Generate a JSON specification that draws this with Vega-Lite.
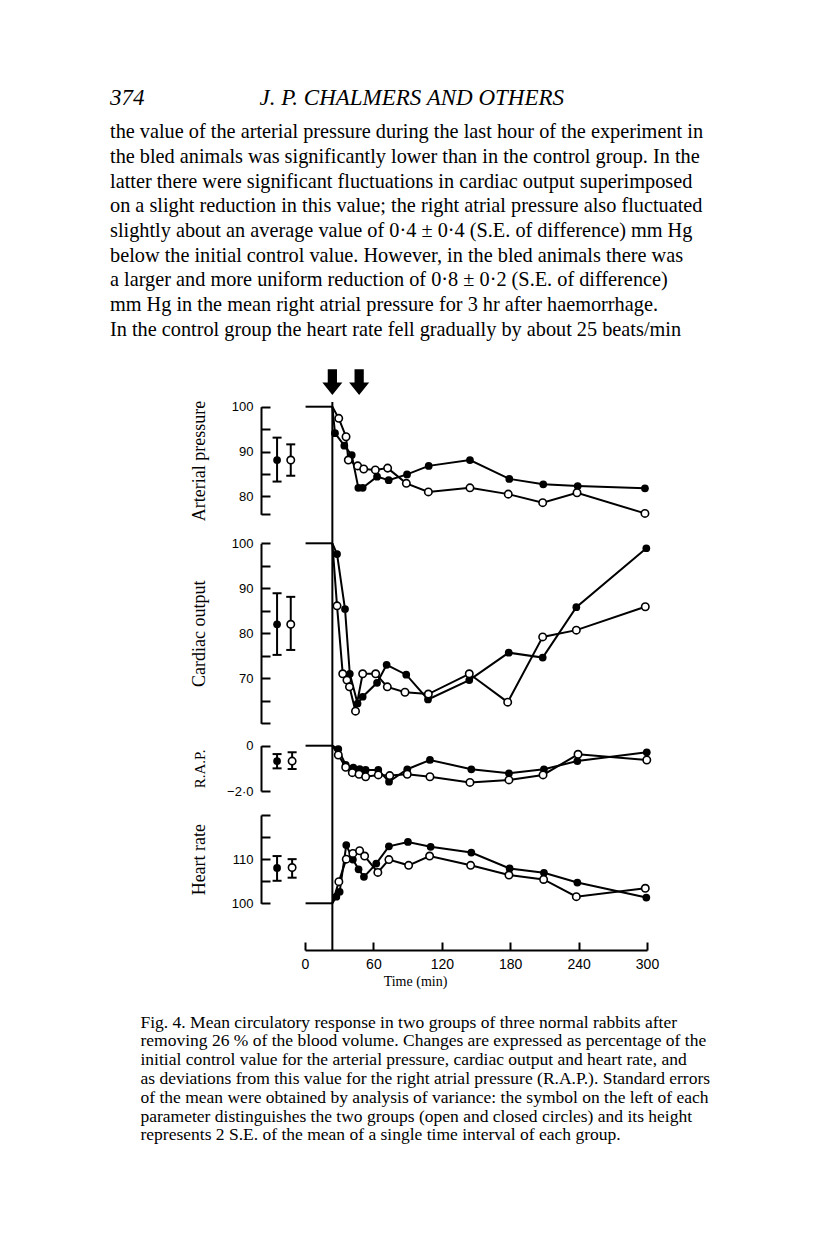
{
"$schema": "https://vega.github.io/schema/vega-lite/v6.json",
"autosize": {"type": "none"},
"padding": {"left": 305, "top": 402, "right": 169, "bottom": 308},
"width": 342,
"height": 548,
"background": "white",
"title": {
  "text": "374\u00a0\u00a0\u00a0\u00a0\u00a0\u00a0\u00a0\u00a0\u00a0\u00a0\u00a0\u00a0\u00a0\u00a0\u00a0\u00a0\u00a0\u00a0\u00a0\u00a0J. P. CHALMERS AND OTHERS",
  "subtitle": [
    "the value of the arterial pressure during the last hour of the experiment in",
    "the bled animals was significantly lower than in the control group. In the",
    "latter there were significant fluctuations in cardiac output superimposed",
    "on a slight reduction in this value; the right atrial pressure also fluctuated",
    "slightly about an average value of 0·4 ± 0·4 (S.E. of difference) mm Hg",
    "below the initial control value. However, in the bled animals there was",
    "a larger and more uniform reduction of 0·8 ± 0·2 (S.E. of difference)",
    "mm Hg in the mean right atrial pressure for 3 hr after haemorrhage.",
    "In the control group the heart rate fell gradually by about 25 beats/min"
  ],
  "anchor": "start",
  "frame": "group",
  "dx": -195,
  "offset": 29,
  "font": "Liberation Serif",
  "fontSize": 23,
  "fontStyle": "italic",
  "fontWeight": "normal",
  "color": "black",
  "subtitleFont": "Liberation Serif",
  "subtitleFontSize": 20.3,
  "subtitleColor": "black",
  "subtitleLineHeight": 24.7,
  "subtitlePadding": 12
},
"datasets": {
  "bleed": [{"t": 24}],
  "arrows": [{"t": 24, "v": 105.5}, {"t": 47.5, "v": 105.5}],
  "d": [
    {"p": "AP", "g": "control", "t": 0.5, "v": 100}, {"p": "AP", "g": "control", "t": 24, "v": 100},
    {"p": "AP", "g": "closed", "t": 24, "v": 100}, {"p": "AP", "g": "closed", "t": 26.3, "v": 94.1},
    {"p": "AP", "g": "closed", "t": 34.5, "v": 91.3}, {"p": "AP", "g": "closed", "t": 41.0, "v": 89.2},
    {"p": "AP", "g": "closed", "t": 46.8, "v": 81.9}, {"p": "AP", "g": "closed", "t": 50.6, "v": 81.9},
    {"p": "AP", "g": "closed", "t": 63.2, "v": 84.4}, {"p": "AP", "g": "closed", "t": 73.4, "v": 83.6},
    {"p": "AP", "g": "closed", "t": 89.5, "v": 84.9}, {"p": "AP", "g": "closed", "t": 108.5, "v": 86.8},
    {"p": "AP", "g": "closed", "t": 144.7, "v": 88.1}, {"p": "AP", "g": "closed", "t": 179.2, "v": 83.9},
    {"p": "AP", "g": "closed", "t": 209.0, "v": 82.7}, {"p": "AP", "g": "closed", "t": 239.2, "v": 82.3},
    {"p": "AP", "g": "closed", "t": 298.2, "v": 81.8},
    {"p": "AP", "g": "open", "t": 24, "v": 100}, {"p": "AP", "g": "open", "t": 29.6, "v": 97.4},
    {"p": "AP", "g": "open", "t": 36.0, "v": 93.3}, {"p": "AP", "g": "open", "t": 38.0, "v": 88.1},
    {"p": "AP", "g": "open", "t": 46.2, "v": 86.8}, {"p": "AP", "g": "open", "t": 51.5, "v": 86.1},
    {"p": "AP", "g": "open", "t": 61.7, "v": 85.9}, {"p": "AP", "g": "open", "t": 72.5, "v": 86.3},
    {"p": "AP", "g": "open", "t": 88.9, "v": 82.9}, {"p": "AP", "g": "open", "t": 108.2, "v": 81.0},
    {"p": "AP", "g": "open", "t": 144.7, "v": 81.9}, {"p": "AP", "g": "open", "t": 178.3, "v": 80.5},
    {"p": "AP", "g": "open", "t": 208.5, "v": 78.6}, {"p": "AP", "g": "open", "t": 238.6, "v": 80.8},
    {"p": "AP", "g": "open", "t": 298.2, "v": 76.2},
    {"p": "AP", "g": "closed", "t": -24.5, "lo": 83.3, "v": 88.1, "hi": 93.1},
    {"p": "AP", "g": "open", "t": -12.5, "lo": 84.6, "v": 88.1, "hi": 91.6},

    {"p": "CO", "g": "control", "t": 0.5, "v": 100}, {"p": "CO", "g": "control", "t": 24, "v": 100},
    {"p": "CO", "g": "closed", "t": 24, "v": 100}, {"p": "CO", "g": "closed", "t": 28.1, "v": 97.6},
    {"p": "CO", "g": "closed", "t": 35.1, "v": 85.4}, {"p": "CO", "g": "closed", "t": 39.3, "v": 71.0},
    {"p": "CO", "g": "closed", "t": 46.1, "v": 64.4}, {"p": "CO", "g": "closed", "t": 50.6, "v": 65.9},
    {"p": "CO", "g": "closed", "t": 63.2, "v": 69.0}, {"p": "CO", "g": "closed", "t": 71.6, "v": 73.0},
    {"p": "CO", "g": "closed", "t": 88.8, "v": 70.8}, {"p": "CO", "g": "closed", "t": 107.9, "v": 65.3},
    {"p": "CO", "g": "closed", "t": 144.1, "v": 69.6}, {"p": "CO", "g": "closed", "t": 178.7, "v": 75.7},
    {"p": "CO", "g": "closed", "t": 208.5, "v": 74.6}, {"p": "CO", "g": "closed", "t": 238.0, "v": 85.8},
    {"p": "CO", "g": "closed", "t": 299.4, "v": 98.9},
    {"p": "CO", "g": "open", "t": 24, "v": 100}, {"p": "CO", "g": "open", "t": 28.1, "v": 86.1},
    {"p": "CO", "g": "open", "t": 33.1, "v": 71.0}, {"p": "CO", "g": "open", "t": 36.8, "v": 69.6},
    {"p": "CO", "g": "open", "t": 39.0, "v": 68.1}, {"p": "CO", "g": "open", "t": 44.3, "v": 62.7},
    {"p": "CO", "g": "open", "t": 50.6, "v": 71.0}, {"p": "CO", "g": "open", "t": 62.0, "v": 71.0},
    {"p": "CO", "g": "open", "t": 72.2, "v": 68.1}, {"p": "CO", "g": "open", "t": 87.7, "v": 66.9},
    {"p": "CO", "g": "open", "t": 108.2, "v": 66.5}, {"p": "CO", "g": "open", "t": 144.1, "v": 71.0},
    {"p": "CO", "g": "open", "t": 177.8, "v": 64.7}, {"p": "CO", "g": "open", "t": 208.5, "v": 79.2},
    {"p": "CO", "g": "open", "t": 238.0, "v": 80.7}, {"p": "CO", "g": "open", "t": 298.5, "v": 85.9},
    {"p": "CO", "g": "closed", "t": -24.5, "lo": 75.2, "v": 82.0, "hi": 88.9},
    {"p": "CO", "g": "open", "t": -12.5, "lo": 76.3, "v": 82.0, "hi": 88.1},

    {"p": "RAP", "g": "control", "t": 0.5, "v": 0}, {"p": "RAP", "g": "control", "t": 24, "v": 0},
    {"p": "RAP", "g": "closed", "t": 24, "v": 0}, {"p": "RAP", "g": "closed", "t": 29.2, "v": -0.15},
    {"p": "RAP", "g": "closed", "t": 35.7, "v": -0.85}, {"p": "RAP", "g": "closed", "t": 42.4, "v": -0.97},
    {"p": "RAP", "g": "closed", "t": 48.0, "v": -1.03}, {"p": "RAP", "g": "closed", "t": 53.2, "v": -1.07},
    {"p": "RAP", "g": "closed", "t": 64.3, "v": -1.07}, {"p": "RAP", "g": "closed", "t": 73.7, "v": -1.59},
    {"p": "RAP", "g": "closed", "t": 89.7, "v": -1.04}, {"p": "RAP", "g": "closed", "t": 109.6, "v": -0.63},
    {"p": "RAP", "g": "closed", "t": 145.9, "v": -1.04}, {"p": "RAP", "g": "closed", "t": 178.9, "v": -1.22},
    {"p": "RAP", "g": "closed", "t": 209.6, "v": -1.04}, {"p": "RAP", "g": "closed", "t": 238.9, "v": -0.68},
    {"p": "RAP", "g": "closed", "t": 299.8, "v": -0.29},
    {"p": "RAP", "g": "open", "t": 24, "v": 0}, {"p": "RAP", "g": "open", "t": 29.2, "v": -0.41},
    {"p": "RAP", "g": "open", "t": 35.7, "v": -0.95}, {"p": "RAP", "g": "open", "t": 41.5, "v": -1.19},
    {"p": "RAP", "g": "open", "t": 47.4, "v": -1.26}, {"p": "RAP", "g": "open", "t": 53.2, "v": -1.37},
    {"p": "RAP", "g": "open", "t": 64.3, "v": -1.29}, {"p": "RAP", "g": "open", "t": 74.3, "v": -1.32},
    {"p": "RAP", "g": "open", "t": 89.7, "v": -1.26}, {"p": "RAP", "g": "open", "t": 109.6, "v": -1.37},
    {"p": "RAP", "g": "open", "t": 144.7, "v": -1.62}, {"p": "RAP", "g": "open", "t": 178.9, "v": -1.51},
    {"p": "RAP", "g": "open", "t": 208.8, "v": -1.29}, {"p": "RAP", "g": "open", "t": 239.5, "v": -0.38},
    {"p": "RAP", "g": "open", "t": 299.8, "v": -0.63},
    {"p": "RAP", "g": "closed", "t": -24.5, "lo": -1.0, "v": -0.68, "hi": -0.37},
    {"p": "RAP", "g": "open", "t": -11.3, "lo": -1.03, "v": -0.68, "hi": -0.29},

    {"p": "HR", "g": "control", "t": 0.5, "v": 100}, {"p": "HR", "g": "control", "t": 24, "v": 100},
    {"p": "HR", "g": "closed", "t": 24, "v": 100}, {"p": "HR", "g": "closed", "t": 27.5, "v": 101.5},
    {"p": "HR", "g": "closed", "t": 30.4, "v": 102.6}, {"p": "HR", "g": "closed", "t": 36.2, "v": 113.2},
    {"p": "HR", "g": "closed", "t": 42.0, "v": 109.9}, {"p": "HR", "g": "closed", "t": 47.0, "v": 107.7},
    {"p": "HR", "g": "closed", "t": 51.7, "v": 106.0}, {"p": "HR", "g": "closed", "t": 62.5, "v": 109.0},
    {"p": "HR", "g": "closed", "t": 73.6, "v": 112.9}, {"p": "HR", "g": "closed", "t": 90.3, "v": 113.9},
    {"p": "HR", "g": "closed", "t": 110.2, "v": 112.8}, {"p": "HR", "g": "closed", "t": 145.9, "v": 111.5},
    {"p": "HR", "g": "closed", "t": 179.5, "v": 107.9}, {"p": "HR", "g": "closed", "t": 209.6, "v": 106.9},
    {"p": "HR", "g": "closed", "t": 238.9, "v": 104.7}, {"p": "HR", "g": "closed", "t": 299.4, "v": 101.3},
    {"p": "HR", "g": "open", "t": 24, "v": 100}, {"p": "HR", "g": "open", "t": 29.7, "v": 104.9},
    {"p": "HR", "g": "open", "t": 36.2, "v": 110.0}, {"p": "HR", "g": "open", "t": 42.0, "v": 111.3},
    {"p": "HR", "g": "open", "t": 47.9, "v": 111.9}, {"p": "HR", "g": "open", "t": 52.3, "v": 110.7},
    {"p": "HR", "g": "open", "t": 63.9, "v": 107.0}, {"p": "HR", "g": "open", "t": 73.6, "v": 109.9},
    {"p": "HR", "g": "open", "t": 90.9, "v": 108.6}, {"p": "HR", "g": "open", "t": 109.3, "v": 110.7},
    {"p": "HR", "g": "open", "t": 145.3, "v": 108.6}, {"p": "HR", "g": "open", "t": 178.9, "v": 106.4},
    {"p": "HR", "g": "open", "t": 209.3, "v": 105.4}, {"p": "HR", "g": "open", "t": 238.0, "v": 101.5},
    {"p": "HR", "g": "open", "t": 298.5, "v": 103.4},
    {"p": "HR", "g": "closed", "t": -24.5, "lo": 105.1, "v": 108.0, "hi": 110.7},
    {"p": "HR", "g": "open", "t": -11.3, "lo": 105.8, "v": 108.1, "hi": 110.0}
  ]
},
"layer": [
  {"data": {"name": "d"}, "transform": [{"filter": "datum.p == 'AP' && datum.t >= 0"}],
   "mark": {"type": "line", "color": "black", "strokeWidth": 2},
   "encoding": {"x": {"field": "t", "type": "quantitative", "scale": {"domain": [0, 300], "nice": false, "zero": false}, "axis": null},
     "detail": {"field": "g"},
     "y": {"field": "v", "type": "quantitative", "scale": {"domain": [76, 100], "range": [112.3, 4.7], "nice": false, "zero": false},
       "axis": {"orient": "left", "values": [76, 80, 85, 90, 95, 100], "labelExpr": "datum.value % 10 == 0 ? datum.label : ''", "title": "Arterial pressure"}}}},
  {"data": {"name": "d"}, "transform": [{"filter": "datum.p == 'AP' && datum.t < 0"}],
   "mark": {"type": "rule", "color": "black", "strokeWidth": 2},
   "encoding": {"x": {"field": "t", "type": "quantitative", "scale": {"domain": [0, 300], "nice": false, "zero": false}, "axis": null},
     "y": {"field": "lo", "type": "quantitative", "scale": {"domain": [76, 100], "range": [112.3, 4.7], "nice": false, "zero": false}, "axis": null}, "y2": {"field": "hi"}}},
  {"data": {"name": "d"}, "transform": [{"filter": "datum.p == 'AP' && datum.t < 0"}],
   "mark": {"type": "tick", "orient": "horizontal", "size": 9, "thickness": 2, "color": "black", "opacity": 1},
   "encoding": {"x": {"field": "t", "type": "quantitative", "scale": {"domain": [0, 300], "nice": false, "zero": false}, "axis": null},
     "y": {"field": "lo", "type": "quantitative", "scale": {"domain": [76, 100], "range": [112.3, 4.7], "nice": false, "zero": false}, "axis": null}}},
  {"data": {"name": "d"}, "transform": [{"filter": "datum.p == 'AP' && datum.t < 0"}],
   "mark": {"type": "tick", "orient": "horizontal", "size": 9, "thickness": 2, "color": "black", "opacity": 1},
   "encoding": {"x": {"field": "t", "type": "quantitative", "scale": {"domain": [0, 300], "nice": false, "zero": false}, "axis": null},
     "y": {"field": "hi", "type": "quantitative", "scale": {"domain": [76, 100], "range": [112.3, 4.7], "nice": false, "zero": false}, "axis": null}}},
  {"data": {"name": "d"}, "transform": [{"filter": "datum.p == 'AP' && datum.g == 'closed' && (datum.t > 24.5 || datum.t < 0)"}],
   "mark": {"type": "point", "shape": "circle", "filled": true, "fill": "black", "stroke": null, "size": 60, "opacity": 1},
   "encoding": {"x": {"field": "t", "type": "quantitative", "scale": {"domain": [0, 300], "nice": false, "zero": false}, "axis": null},
     "y": {"field": "v", "type": "quantitative", "scale": {"domain": [76, 100], "range": [112.3, 4.7], "nice": false, "zero": false}, "axis": null}}},
  {"data": {"name": "d"}, "transform": [{"filter": "datum.p == 'AP' && datum.g == 'open' && (datum.t > 24.5 || datum.t < 0)"}],
   "mark": {"type": "point", "shape": "circle", "filled": true, "fill": "white", "stroke": "black", "strokeWidth": 1.6, "size": 55, "opacity": 1},
   "encoding": {"x": {"field": "t", "type": "quantitative", "scale": {"domain": [0, 300], "nice": false, "zero": false}, "axis": null},
     "y": {"field": "v", "type": "quantitative", "scale": {"domain": [76, 100], "range": [112.3, 4.7], "nice": false, "zero": false}, "axis": null}}},

  {"data": {"name": "d"}, "transform": [{"filter": "datum.p == 'CO' && datum.t >= 0"}],
   "mark": {"type": "line", "color": "black", "strokeWidth": 2},
   "encoding": {"x": {"field": "t", "type": "quantitative", "scale": {"domain": [0, 300], "nice": false, "zero": false}, "axis": null},
     "detail": {"field": "g"},
     "y": {"field": "v", "type": "quantitative", "scale": {"domain": [60, 100], "range": [321.3, 141.3], "nice": false, "zero": false},
       "axis": {"orient": "left", "values": [60, 65, 70, 75, 80, 85, 90, 95, 100], "labelExpr": "datum.value % 10 == 0 && datum.value > 60 ? datum.label : ''", "title": "Cardiac output"}}}},
  {"data": {"name": "d"}, "transform": [{"filter": "datum.p == 'CO' && datum.t < 0"}],
   "mark": {"type": "rule", "color": "black", "strokeWidth": 2},
   "encoding": {"x": {"field": "t", "type": "quantitative", "scale": {"domain": [0, 300], "nice": false, "zero": false}, "axis": null},
     "y": {"field": "lo", "type": "quantitative", "scale": {"domain": [60, 100], "range": [321.3, 141.3], "nice": false, "zero": false}, "axis": null}, "y2": {"field": "hi"}}},
  {"data": {"name": "d"}, "transform": [{"filter": "datum.p == 'CO' && datum.t < 0"}],
   "mark": {"type": "tick", "orient": "horizontal", "size": 9, "thickness": 2, "color": "black", "opacity": 1},
   "encoding": {"x": {"field": "t", "type": "quantitative", "scale": {"domain": [0, 300], "nice": false, "zero": false}, "axis": null},
     "y": {"field": "lo", "type": "quantitative", "scale": {"domain": [60, 100], "range": [321.3, 141.3], "nice": false, "zero": false}, "axis": null}}},
  {"data": {"name": "d"}, "transform": [{"filter": "datum.p == 'CO' && datum.t < 0"}],
   "mark": {"type": "tick", "orient": "horizontal", "size": 9, "thickness": 2, "color": "black", "opacity": 1},
   "encoding": {"x": {"field": "t", "type": "quantitative", "scale": {"domain": [0, 300], "nice": false, "zero": false}, "axis": null},
     "y": {"field": "hi", "type": "quantitative", "scale": {"domain": [60, 100], "range": [321.3, 141.3], "nice": false, "zero": false}, "axis": null}}},
  {"data": {"name": "d"}, "transform": [{"filter": "datum.p == 'CO' && datum.g == 'closed' && (datum.t > 24.5 || datum.t < 0)"}],
   "mark": {"type": "point", "shape": "circle", "filled": true, "fill": "black", "stroke": null, "size": 60, "opacity": 1},
   "encoding": {"x": {"field": "t", "type": "quantitative", "scale": {"domain": [0, 300], "nice": false, "zero": false}, "axis": null},
     "y": {"field": "v", "type": "quantitative", "scale": {"domain": [60, 100], "range": [321.3, 141.3], "nice": false, "zero": false}, "axis": null}}},
  {"data": {"name": "d"}, "transform": [{"filter": "datum.p == 'CO' && datum.g == 'open' && (datum.t > 24.5 || datum.t < 0)"}],
   "mark": {"type": "point", "shape": "circle", "filled": true, "fill": "white", "stroke": "black", "strokeWidth": 1.6, "size": 55, "opacity": 1},
   "encoding": {"x": {"field": "t", "type": "quantitative", "scale": {"domain": [0, 300], "nice": false, "zero": false}, "axis": null},
     "y": {"field": "v", "type": "quantitative", "scale": {"domain": [60, 100], "range": [321.3, 141.3], "nice": false, "zero": false}, "axis": null}}},

  {"data": {"name": "d"}, "transform": [{"filter": "datum.p == 'RAP' && datum.t >= 0"}],
   "mark": {"type": "line", "color": "black", "strokeWidth": 2},
   "encoding": {"x": {"field": "t", "type": "quantitative", "scale": {"domain": [0, 300], "nice": false, "zero": false}, "axis": null},
     "detail": {"field": "g"},
     "y": {"field": "v", "type": "quantitative", "scale": {"domain": [-2, 0], "range": [389, 343.7], "nice": false, "zero": false},
       "axis": {"orient": "left", "values": [-2, 0], "labelExpr": "datum.value == 0 ? '0' : '\u22122\u00b70'", "title": "R.A.P.", "titleFontSize": 15, "titlePadding": 19}}}},
  {"data": {"name": "d"}, "transform": [{"filter": "datum.p == 'RAP' && datum.t < 0"}],
   "mark": {"type": "rule", "color": "black", "strokeWidth": 2},
   "encoding": {"x": {"field": "t", "type": "quantitative", "scale": {"domain": [0, 300], "nice": false, "zero": false}, "axis": null},
     "y": {"field": "lo", "type": "quantitative", "scale": {"domain": [-2, 0], "range": [389, 343.7], "nice": false, "zero": false}, "axis": null}, "y2": {"field": "hi"}}},
  {"data": {"name": "d"}, "transform": [{"filter": "datum.p == 'RAP' && datum.t < 0"}],
   "mark": {"type": "tick", "orient": "horizontal", "size": 9, "thickness": 2, "color": "black", "opacity": 1},
   "encoding": {"x": {"field": "t", "type": "quantitative", "scale": {"domain": [0, 300], "nice": false, "zero": false}, "axis": null},
     "y": {"field": "lo", "type": "quantitative", "scale": {"domain": [-2, 0], "range": [389, 343.7], "nice": false, "zero": false}, "axis": null}}},
  {"data": {"name": "d"}, "transform": [{"filter": "datum.p == 'RAP' && datum.t < 0"}],
   "mark": {"type": "tick", "orient": "horizontal", "size": 9, "thickness": 2, "color": "black", "opacity": 1},
   "encoding": {"x": {"field": "t", "type": "quantitative", "scale": {"domain": [0, 300], "nice": false, "zero": false}, "axis": null},
     "y": {"field": "hi", "type": "quantitative", "scale": {"domain": [-2, 0], "range": [389, 343.7], "nice": false, "zero": false}, "axis": null}}},
  {"data": {"name": "d"}, "transform": [{"filter": "datum.p == 'RAP' && datum.g == 'closed' && (datum.t > 24.5 || datum.t < 0)"}],
   "mark": {"type": "point", "shape": "circle", "filled": true, "fill": "black", "stroke": null, "size": 60, "opacity": 1},
   "encoding": {"x": {"field": "t", "type": "quantitative", "scale": {"domain": [0, 300], "nice": false, "zero": false}, "axis": null},
     "y": {"field": "v", "type": "quantitative", "scale": {"domain": [-2, 0], "range": [389, 343.7], "nice": false, "zero": false}, "axis": null}}},
  {"data": {"name": "d"}, "transform": [{"filter": "datum.p == 'RAP' && datum.g == 'open' && (datum.t > 24.5 || datum.t < 0)"}],
   "mark": {"type": "point", "shape": "circle", "filled": true, "fill": "white", "stroke": "black", "strokeWidth": 1.6, "size": 55, "opacity": 1},
   "encoding": {"x": {"field": "t", "type": "quantitative", "scale": {"domain": [0, 300], "nice": false, "zero": false}, "axis": null},
     "y": {"field": "v", "type": "quantitative", "scale": {"domain": [-2, 0], "range": [389, 343.7], "nice": false, "zero": false}, "axis": null}}},

  {"data": {"name": "d"}, "transform": [{"filter": "datum.p == 'HR' && datum.t >= 0"}],
   "mark": {"type": "line", "color": "black", "strokeWidth": 2},
   "encoding": {"x": {"field": "t", "type": "quantitative", "scale": {"domain": [0, 300], "nice": false, "zero": false}, "axis": null},
     "detail": {"field": "g"},
     "y": {"field": "v", "type": "quantitative", "scale": {"domain": [100, 120], "range": [501.3, 413], "nice": false, "zero": false},
       "axis": {"orient": "left", "values": [100, 105, 110, 115, 120], "labelExpr": "datum.value == 100 || datum.value == 110 ? datum.label : ''", "title": "Heart rate"}}}},
  {"data": {"name": "d"}, "transform": [{"filter": "datum.p == 'HR' && datum.t < 0"}],
   "mark": {"type": "rule", "color": "black", "strokeWidth": 2},
   "encoding": {"x": {"field": "t", "type": "quantitative", "scale": {"domain": [0, 300], "nice": false, "zero": false}, "axis": null},
     "y": {"field": "lo", "type": "quantitative", "scale": {"domain": [100, 120], "range": [501.3, 413], "nice": false, "zero": false}, "axis": null}, "y2": {"field": "hi"}}},
  {"data": {"name": "d"}, "transform": [{"filter": "datum.p == 'HR' && datum.t < 0"}],
   "mark": {"type": "tick", "orient": "horizontal", "size": 9, "thickness": 2, "color": "black", "opacity": 1},
   "encoding": {"x": {"field": "t", "type": "quantitative", "scale": {"domain": [0, 300], "nice": false, "zero": false}, "axis": null},
     "y": {"field": "lo", "type": "quantitative", "scale": {"domain": [100, 120], "range": [501.3, 413], "nice": false, "zero": false}, "axis": null}}},
  {"data": {"name": "d"}, "transform": [{"filter": "datum.p == 'HR' && datum.t < 0"}],
   "mark": {"type": "tick", "orient": "horizontal", "size": 9, "thickness": 2, "color": "black", "opacity": 1},
   "encoding": {"x": {"field": "t", "type": "quantitative", "scale": {"domain": [0, 300], "nice": false, "zero": false}, "axis": null},
     "y": {"field": "hi", "type": "quantitative", "scale": {"domain": [100, 120], "range": [501.3, 413], "nice": false, "zero": false}, "axis": null}}},
  {"data": {"name": "d"}, "transform": [{"filter": "datum.p == 'HR' && datum.g == 'closed' && (datum.t > 24.5 || datum.t < 0)"}],
   "mark": {"type": "point", "shape": "circle", "filled": true, "fill": "black", "stroke": null, "size": 60, "opacity": 1},
   "encoding": {"x": {"field": "t", "type": "quantitative", "scale": {"domain": [0, 300], "nice": false, "zero": false}, "axis": null},
     "y": {"field": "v", "type": "quantitative", "scale": {"domain": [100, 120], "range": [501.3, 413], "nice": false, "zero": false}, "axis": null}}},
  {"data": {"name": "d"}, "transform": [{"filter": "datum.p == 'HR' && datum.g == 'open' && (datum.t > 24.5 || datum.t < 0)"}],
   "mark": {"type": "point", "shape": "circle", "filled": true, "fill": "white", "stroke": "black", "strokeWidth": 1.6, "size": 55, "opacity": 1},
   "encoding": {"x": {"field": "t", "type": "quantitative", "scale": {"domain": [0, 300], "nice": false, "zero": false}, "axis": null},
     "y": {"field": "v", "type": "quantitative", "scale": {"domain": [100, 120], "range": [501.3, 413], "nice": false, "zero": false}, "axis": null}}},

  {"data": {"name": "bleed"},
   "mark": {"type": "rule", "color": "black", "strokeWidth": 2},
   "encoding": {
     "x": {"field": "t", "type": "quantitative", "scale": {"domain": [0, 300], "nice": false, "zero": false},
       "axis": {"orient": "bottom", "values": [0, 60, 120, 180, 240, 300], "format": "d", "labelFlush": false, "labelOverlap": false,
         "tickSize": -8, "tickWidth": 2, "tickColor": "black", "domainColor": "black", "domainWidth": 2,
         "labelFont": "Liberation Sans", "labelFontSize": 14, "labelColor": "black", "labelPadding": 15,
         "title": "Time (min)", "titleFont": "Liberation Serif", "titleFontSize": 14, "titleFontWeight": "normal", "titleColor": "black",
         "titleX": 110, "titleY": 35, "titleBaseline": "alphabetic", "titleAlign": "center", "grid": false}}}},
  {"data": {"name": "arrows"},
   "mark": {"type": "point", "shape": "M-0.36,-1L0.36,-1L0.36,0.04L0.78,0.04L0,1L-0.78,0.04L-0.36,0.04Z", "filled": true, "fill": "black", "stroke": null, "size": 660, "opacity": 1},
   "encoding": {
     "x": {"field": "t", "type": "quantitative", "scale": {"domain": [0, 300], "nice": false, "zero": false},
       "axis": {"orient": "bottom", "domain": false, "ticks": false, "labels": false, "grid": false,
         "title": [
           "Fig. 4. Mean circulatory response in two groups of three normal rabbits after",
           "removing 26 % of the blood volume. Changes are expressed as percentage of the",
           "initial control value for the arterial pressure, cardiac output and heart rate, and",
           "as deviations from this value for the right atrial pressure (R.A.P.). Standard errors",
           "of the mean were obtained by analysis of variance: the symbol on the left of each",
           "parameter distinguishes the two groups (open and closed circles) and its height",
           "represents 2 S.E. of the mean of a single time interval of each group."
         ],
         "titleX": -165, "titleY": 77, "titleAlign": "left", "titleBaseline": "alphabetic",
         "titleFont": "Liberation Serif", "titleFontSize": 17.5, "titleFontWeight": "normal", "titleColor": "black", "titleLineHeight": 18.8}},
     "y": {"field": "v", "type": "quantitative", "scale": {"domain": [76, 100], "range": [112.3, 4.7], "nice": false, "zero": false}, "axis": null}}}
],
"resolve": {"scale": {"y": "independent"}, "axis": {"y": "independent", "x": "independent"}},
"config": {
  "view": {"stroke": null},
  "axisY": {"offset": 44, "tickSize": -9, "tickWidth": 2, "tickColor": "black", "domainColor": "black", "domainWidth": 2,
    "labelFont": "Liberation Sans", "labelFontSize": 13, "labelColor": "black", "labelPadding": 17, "labelOverlap": false,
    "titleFont": "Liberation Serif", "titleFontSize": 18, "titleFontWeight": "normal", "titleColor": "black", "titlePadding": 23, "grid": false}
}
}
